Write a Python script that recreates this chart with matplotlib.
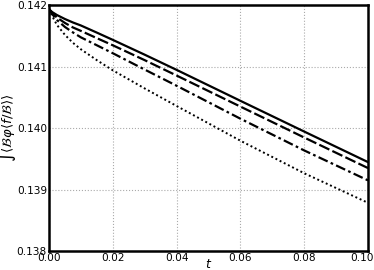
import numpy as np
import matplotlib
matplotlib.use('Agg')
import matplotlib.pyplot as plt
from matplotlib.transforms import ScaledTranslation

# values
t = [0.0, 0.001, 0.0025, 0.005, 0.0075, 0.01, 0.015, 0.02, 0.03, 0.04, 0.06, 0.08, 0.10]
solid = [0.141935, 0.141887, 0.141839, 0.141774, 0.141718, 0.141669, 0.141553,
         0.141435, 0.141194, 0.140947, 0.140444, 0.139944, 0.139447]
dashed = [0.141935, 0.141871, 0.141798, 0.141710, 0.141637, 0.141581, 0.141463,
          0.141347, 0.141105, 0.140855, 0.140350, 0.139847, 0.139350]
dashdot = [0.141935, 0.141855, 0.141758, 0.141645, 0.141556, 0.141476, 0.141347,
           0.141218, 0.140952, 0.140689, 0.140153, 0.139637, 0.139150]
dotted = [0.141935, 0.141823, 0.141677, 0.141516, 0.141387, 0.141282, 0.141105,
          0.140940, 0.140645, 0.140360, 0.139795, 0.139266, 0.138785]

yticks = [0.138, 0.139, 0.140, 0.141, 0.142]
xticks = [0.00, 0.02, 0.04, 0.06, 0.08, 0.10]

fig = plt.figure(figsize=(3.74, 2.70), dpi=100)
ax = fig.add_axes([0.131, 0.070, 0.853, 0.911])

ax.plot(t, solid, color='black', lw=1.6, ls='-')
ax.plot(t, dashed, color='black', lw=1.6, ls=(0, (5, 1.5)))
ax.plot(t, dashdot, color='black', lw=1.6, ls=(0, (4.5, 1.5, 1.2, 1.5)))
ax.plot(t, dotted, color='black', lw=1.4, ls=(0, (1, 1.4)))

ax.set_xlim(0, 0.1)
ax.set_ylim(0.138, 0.142)
ax.set_xticks(xticks)
ax.set_xticklabels(['%.2f' % v for v in xticks])
ax.set_yticks(yticks)
ax.set_yticklabels(['%.3f' % v for v in yticks])
ax.tick_params(length=0, labelsize=7.6, pad=1.5)
ax.grid(True, color='#aaaaaa', ls=':', lw=0.8)
for s in ax.spines.values():
    s.set_linewidth(1.8)

# last x tick label sits against the figure edge, nudge it left
lab = ax.get_xticklabels()[-1]
lab.set_transform(lab.get_transform() + ScaledTranslation(-6 / 100, 0, fig.dpi_scale_trans))

ax.set_xlabel(r'$t$', fontsize=9)
ax.xaxis.set_label_coords(0.5, -0.03)
ax.set_ylabel(r'$\int\langle\mathcal{B}\varphi\langle f/\mathcal{B}\rangle\rangle$', fontsize=9.5)
ax.yaxis.set_label_coords(-0.097, 0.5)

fig.savefig('out.png', dpi=100)
